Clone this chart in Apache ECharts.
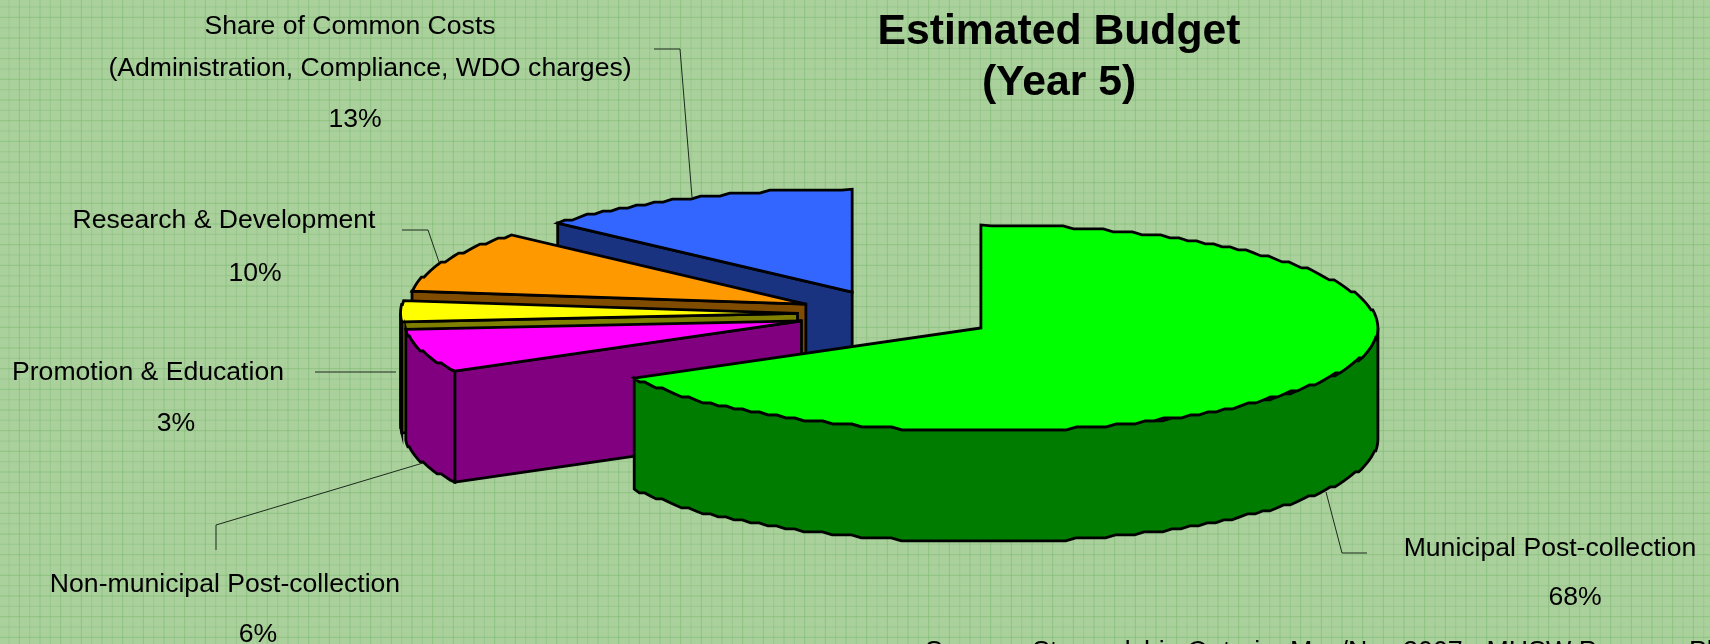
<!DOCTYPE html>
<html>
<head>
<meta charset="utf-8">
<title>Estimated Budget (Year 5)</title>
<style>
html, body { margin: 0; padding: 0; background: #a9cf9b; overflow: hidden; }
#main { width: 1710px; height: 644px; }
</style>
<script src="https://cdn.jsdelivr.net/npm/echarts@6/dist/echarts.min.js"></script>
</head>
<body>
<div id="main"></div>
<script>
// clockwise from 12 o'clock, same order as the original pie
const categories = ['Municipal Post-collection', 'Non-municipal Post-collection', 'Promotion & Education', 'Research & Development', 'Share of Common Costs\n(Administration, Compliance, WDO charges)']
const percentLabels = ['68%', '6%', '3%', '10%', '13%']
// share of the circle each wedge really takes up in the picture (the old 3D renderer does not follow the printed % exactly)
const wedgeShares = [66.9, 6.8, 3.3, 9.7, 13.3]
const topColors = ['#00ff00', '#ff00ff', '#ffff00', '#ff9900', '#3366ff']
const wallColors = ['#007c00', '#800080', '#808000', '#804c00', '#1a3380']

// layout of the pie
const centerX = 889.5
const centerY = 314
const radiusX = 397
const radiusY = 103
const depth = 111
const explosion = [106, 92, 92, 92, 92]

// text and leader lines: [x, y] per text line, last one is the percent
const labelSpots = [
    [[1550, 549], [1575, 598]],
    [[225, 585], [258, 635]],
    [[148, 373], [176, 424]],
    [[224, 221], [255, 274]],
    [[350, 27], [370, 69], [355, 120]]
]
const leaders = [
    [[1326, 492], [1342, 553], [1367, 553]],
    [[216, 550], [216, 525], [423, 463]],
    [[315, 372], [396, 372]],
    [[402, 230], [428, 230], [439, 262]],
    [[654, 49], [680, 49], [692, 197]]
]

const toRad = d => d * Math.PI / 180
const step = 3

// the reference arcs are stair-stepped, so snap the y of the points to a coarse raster
const arcPoints = (cx, cy, from, to) => {
    let pts = []
    let n = Math.max(2, Math.ceil((to - from) / 1.5))
    for (let k = 0; k <= n; k++) {
        let a = toRad(from + (to - from) * k / n)
        let dx = radiusX * Math.sin(a)
        let dy = -radiusY * Math.cos(a)
        if (k > 0 && k < n) {
            dy = Math.round(dy / step) * step
        }
        pts.push([cx + dx, cy + dy])
    }
    return pts
}

const makeGridTile = () => {
    const cell = 10.35
    const size = Math.round(cell * 6)
    const c = document.createElement('canvas')
    c.width = size
    c.height = size
    const g = c.getContext('2d')
    g.fillStyle = '#aad09c'
    g.fillRect(0, 0, size, size)
    for (let i = 0; i < 6; i++) {
        let pos = 9 + i * size / 6
        g.lineWidth = 1
        g.strokeStyle = i % 2 ? 'rgba(125,187,115,0.6)' : 'rgba(125,187,115,0.35)'
        g.beginPath()
        g.moveTo(pos % size, 0)
        g.lineTo(pos % size, size)
        g.stroke()
        g.beginPath()
        g.moveTo(0, (pos - 2) % size)
        g.lineTo(size, (pos - 2) % size)
        g.stroke()
    }
    return c
}

const renderSlice = (params, api) => {
    let i = params.dataIndex
    let before = 0
    for (let j = 0; j < i; j++) before += wedgeShares[j]
    let start = before * 3.6
    let end = (before + api.value(0)) * 3.6
    let mid = toRad((start + end) / 2)
    let cx = centerX + explosion[i] * Math.sin(mid)
    let cy = centerY - explosion[i] * Math.cos(mid) * radiusY / radiusX

    let base = (5 - i) * 10
    let line = { stroke: '#000', lineWidth: 2.8, lineJoin: 'miter' }
    let children = []

    // near radial wall, only when the cut faces the viewer
    if (start >= 180) {
        let a = toRad(start)
        let ex = cx + radiusX * Math.sin(a)
        let ey = cy - radiusY * Math.cos(a)
        children.push({
            type: 'polygon', z2: base,
            shape: { points: [[cx, cy], [ex, ey], [ex, ey + depth], [cx, cy + depth]] },
            style: Object.assign({ fill: wallColors[i] }, line)
        })
    }
    // outer wall, front half of the ellipse only
    let wallFrom = Math.max(start, 90)
    let wallTo = Math.min(end, 270)
    if (wallTo > wallFrom) {
        let rim = arcPoints(cx, cy, wallFrom, wallTo)
        let lower = rim.map(p => [p[0], p[1] + depth]).reverse()
        children.push({
            type: 'polygon', z2: base + 1,
            shape: { points: rim.concat(lower) },
            style: Object.assign({ fill: wallColors[i] }, line)
        })
    }
    // top face
    children.push({
        type: 'polygon', z2: base + 2,
        shape: { points: [[cx, cy]].concat(arcPoints(cx, cy, start, end)) },
        style: Object.assign({ fill: topColors[i] }, line)
    })
    // leader line sits under the pie
    children.push({
        type: 'polyline', z2: 1,
        shape: { points: leaders[i] },
        style: { stroke: '#1c2a1c', lineWidth: 1, fill: null }
    })
    // label lines and the percent
    let texts = categories[i].split('\n').concat(percentLabels[i])
    texts.forEach((t, k) => {
        children.push({
            type: 'text', z2: 100,
            style: {
                text: t,
                x: labelSpots[i][k][0],
                y: labelSpots[i][k][1],
                align: 'center',
                verticalAlign: 'middle',
                fill: '#000',
                font: '26.6px "Liberation Sans", Arial, sans-serif'
            }
        })
    })
    return { type: 'group', children: children }
}

const chart = echarts.init(document.getElementById('main'), null, { renderer: 'canvas' })
chart.setOption({
    animation: false,
    backgroundColor: { image: makeGridTile(), repeat: 'repeat' },
    title: {
        text: 'Estimated Budget\n(Year 5)',
        left: 1054,
        top: 2,
        textAlign: 'center',
        textStyle: {
            fontFamily: '"Liberation Sans", Arial, sans-serif',
            fontSize: 42.7,
            fontWeight: 'bold',
            lineHeight: 51,
            color: '#000'
        }
    },
    graphic: [{
        type: 'text',
        left: 925,
        top: 639,
        style: {
            text: 'Source:  Stewardship Ontario, May/Nov 2007 - MHSW Program Plan',
            fill: '#000',
            font: '26.8px "Liberation Sans", Arial, sans-serif'
        }
    }],
    series: [{
        type: 'custom',
        coordinateSystem: 'none',
        silent: true,
        renderItem: renderSlice,
        data: wedgeShares.map(v => [v])
    }]
})
</script>
</body>
</html>
